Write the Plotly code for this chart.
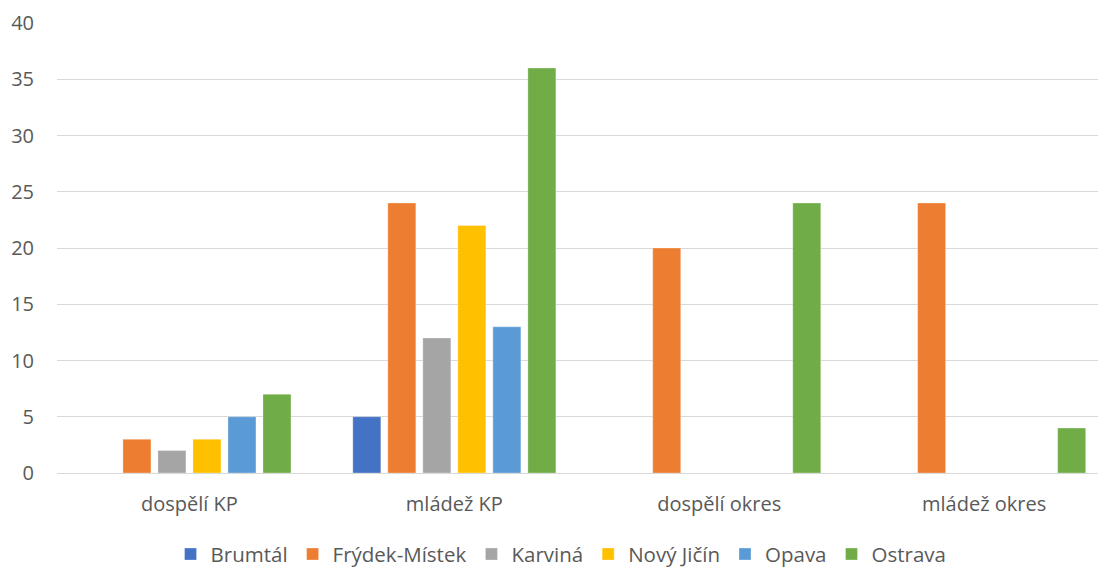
import plotly.graph_objects as go

categories = ["dospělí KP", "mládež KP", "dospělí okres", "mládež okres"]
series_names = ["Brumtál", "Frýdek-Místek", "Karviná", "Nový Jičín", "Opava", "Ostrava"]
brumtal = [0, 5, 0, 0]
frydek = [3, 24, 20, 24]
karvina = [2, 12, 0, 0]
novy_jicin = [3, 22, 0, 0]
opava = [5, 13, 0, 0]
ostrava = [7, 36, 24, 4]
values = [brumtal, frydek, karvina, novy_jicin, opava, ostrava]
colors = ["#4472C4", "#ED7D31", "#A5A5A5", "#FFC000", "#5B9BD5", "#70AD47"]

fig = go.Figure()
for name, vals, col in zip(series_names, values, colors):
    fig.add_trace(go.Bar(
        x=list(range(len(categories))), y=vals, name=name,
        marker=dict(color=col, line=dict(color="rgba(255,255,255,0.5)", width=0.6)),
    ))

font_family = "Open Sans, Noto Sans, sans-serif"
fig.update_layout(
    width=1098, height=559,
    margin=dict(l=49, r=0, t=15, b=94, autoexpand=False),
    paper_bgcolor="white", plot_bgcolor="white",
    barmode="group", bargap=0.207, bargroupgap=0.2,
    font=dict(family=font_family, color="#595959", size=20),
    showlegend=True,
    legend=dict(orientation="h", x=0.4805, xanchor="center", y=-0.136, yanchor="top",
                font=dict(size=20.5, color="#595959"), traceorder="normal",
                tracegroupgap=0),
    xaxis=dict(
        tickmode="array", tickvals=list(range(len(categories))), ticktext=categories,
        range=[-0.5, 3.46], showgrid=False, zeroline=False, showline=False,
        automargin=False,
        ticks="", ticklabelstandoff=17, tickfont=dict(size=20, color="#595959"),
    ),
    yaxis=dict(
        range=[0, 40], dtick=5, showgrid=True, gridcolor="#D9D9D9", gridwidth=1.3,
        zeroline=True, zerolinecolor="#D9D9D9", zerolinewidth=1.3, automargin=False,
        ticks="", ticklabelstandoff=22, tickfont=dict(size=20, color="#595959"),
    ),
)
fig.write_html("out.html")
